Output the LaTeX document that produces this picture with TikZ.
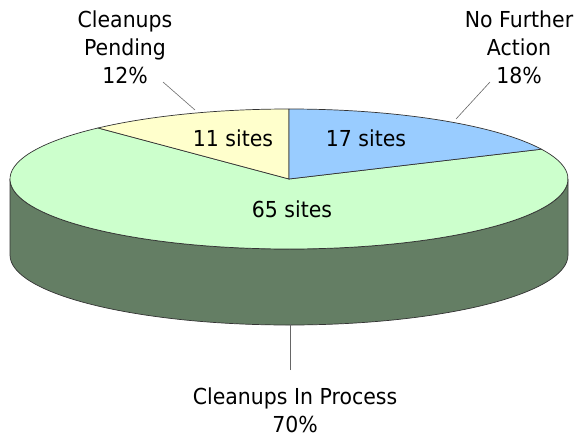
\documentclass[tikz,border=0pt]{standalone}
\usepackage{fontspec}
\setmainfont{DejaVu Sans}[FakeStretch=0.93]
\definecolor{nfaBlue}{RGB}{153,204,255}
\definecolor{pendYellow}{RGB}{255,255,204}
\definecolor{procGreen}{RGB}{204,255,204}
\definecolor{procSide}{RGB}{100,126,100}
\begin{document}
\begin{tikzpicture}[x=1pt,y=1pt,
  edge/.style={draw=black!80,line width=0.7pt,line join=round},
  leader/.style={draw=black!60,line width=0.6pt},
  lbl/.style={font=\fontsize{22}{27.5}\selectfont,align=center,inner sep=0pt,anchor=base},
  slbl/.style={font=\fontsize{22}{27}\selectfont,inner sep=0pt,anchor=base}]
\useasboundingbox (0,0) rectangle (577,-436);
\def\rx{279}\def\ry{70}
\coordinate (C) at (289,-179);
% front wall of the pie (only the green slice shows there)
\filldraw[fill=procSide,edge] (10,-179) -- (10,-255)
  arc[start angle=180,end angle=360,x radius=\rx,y radius=\ry]
  -- (568,-179)
  arc[start angle=360,end angle=180,x radius=\rx,y radius=\ry] -- cycle;
% top faces of the three slices
\filldraw[fill=procGreen,edge] (C) -- ++(133.2:\rx pt and \ry pt)
  arc[start angle=133.2,end angle=385.2,x radius=\rx,y radius=\ry] -- cycle;
\filldraw[fill=pendYellow,edge] (C) -- ++(90:\rx pt and \ry pt)
  arc[start angle=90,end angle=133.2,x radius=\rx,y radius=\ry] -- cycle;
\filldraw[fill=nfaBlue,edge] (C) -- ++(25.2:\rx pt and \ry pt)
  arc[start angle=25.2,end angle=90,x radius=\rx,y radius=\ry] -- cycle;
% values inside the slices
\node[slbl] (vPend) at (233,-146) {11 sites};
\node[slbl] (vNfa) at (366,-146) {17 sites};
\node[slbl] (vProc) at (292,-217) {65 sites};
% outer labels (anchored at the baseline of their last line)
\node[lbl] (lPend) at (125,-83) {Cleanups\\Pending\\12\%};
\node[lbl] (lNfa) at (519,-83) {No Further\\Action\\18\%};
\node[lbl] (lProc) at (295,-432) {Cleanups In Process\\70\%};
% leader lines
\coordinate (tPend) at (195,-110);
\coordinate (tNfa) at (456,-119);
\coordinate (tProc) at (290,-324);
\coordinate (ePend) at (163,-82);
\coordinate (eNfa) at (490,-82);
\coordinate (eProc) at (290,-370);
\draw[leader] (ePend) -- (tPend);
\draw[leader] (eNfa) -- (tNfa);
\draw[leader] (eProc) -- (tProc);
\end{tikzpicture}
\end{document}
